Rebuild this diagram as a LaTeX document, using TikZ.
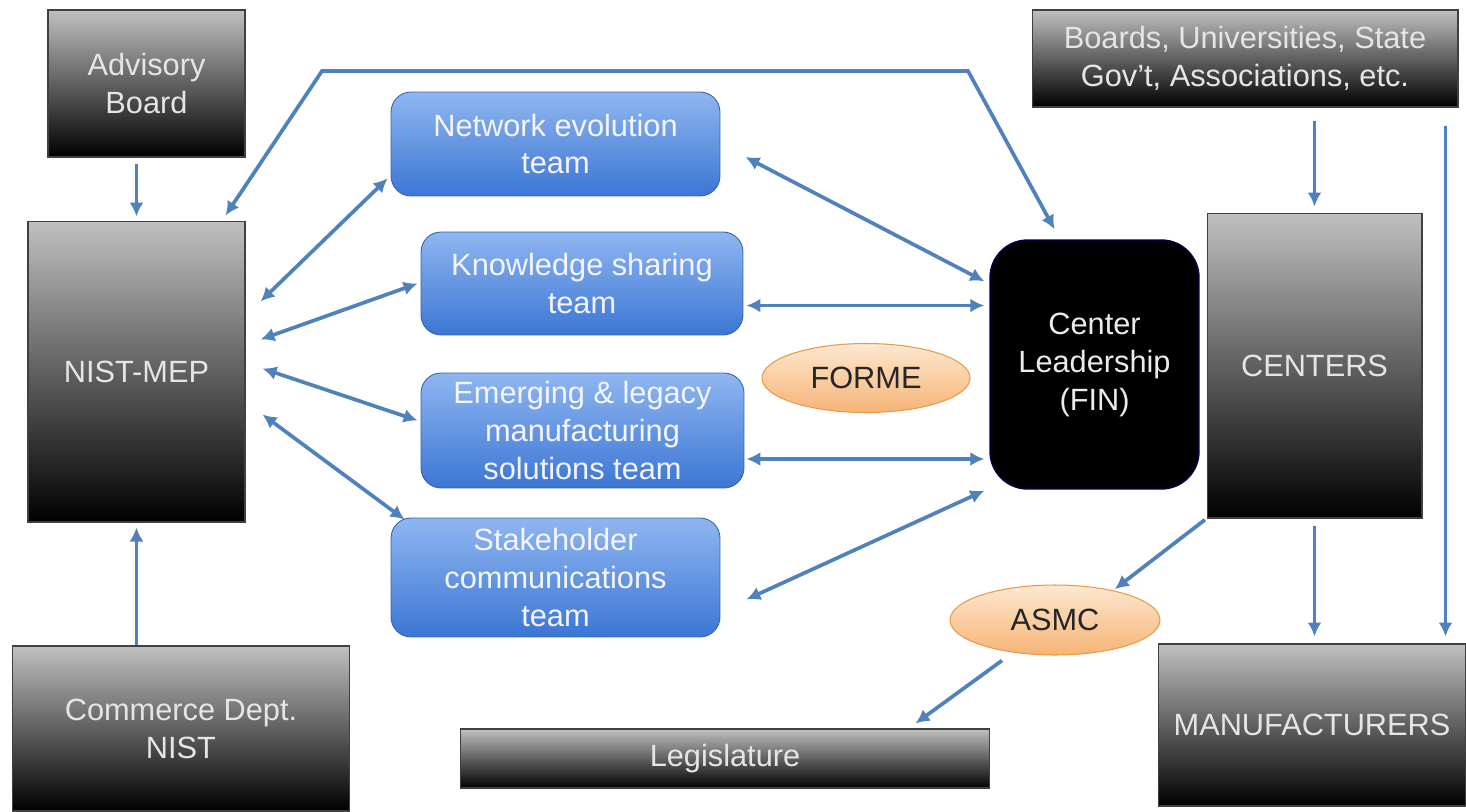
\documentclass[tikz,border=0pt]{standalone}
\usepackage{fontspec}
\setmainfont{Liberation Sans}
\usetikzlibrary{arrows.meta,calc,shapes.geometric}
\definecolor{arrblue}{RGB}{79,129,189}
\definecolor{boxtop}{RGB}{192,192,192}
\definecolor{teamtop}{RGB}{143,182,240}
\definecolor{teambot}{RGB}{60,118,212}
\definecolor{ovaltop}{RGB}{253,232,208}
\definecolor{ovalbot}{RGB}{246,180,118}
\tikzset{
  every node/.style={font=\fontsize{17.5}{21.6}\selectfont,align=center,inner sep=0pt},
  graybox/.style={draw=black!75,line width=0.6pt,top color=boxtop,bottom color=black,text=white!90!black},
  teambox/.style={draw=teambot!85!black,line width=0.5pt,rounded corners=0.4cm,top color=teamtop,bottom color=teambot,text=white!96!blue},
  leadbox/.style={draw=blue!30!black,line width=0.8pt,rounded corners=0.75cm,fill=black,text=white!92!black},
  oval/.style={ellipse,draw=orange!60!brown!80,line width=0.6pt,top color=ovaltop,bottom color=ovalbot,text=black!85},
  arr/.style={draw=arrblue,line width=2.1pt,-{Latex[length=2.8mm,width=2.8mm]}},
  darr/.style={draw=arrblue,line width=2.1pt,{Latex[length=2.8mm,width=2.8mm]}-{Latex[length=2.8mm,width=2.8mm]}}
}

\begin{document}
\begin{tikzpicture}[x=0.02cm,y=-0.02cm]
\useasboundingbox (0,0) rectangle (1466,811);

\node[graybox,minimum width=3.94cm,minimum height=2.94cm] (adv) at (146.5,83.5) {Advisory\\Board};
\node[graybox,minimum width=8.52cm,minimum height=1.94cm] (brd) at (1245,58.5) {Boards, Universities, State\\Gov't, Associations, etc.};
\node[graybox,minimum width=4.34cm,minimum height=6.02cm] (nist) at (136.5,371.5) {NIST-MEP};
\node[graybox,minimum width=6.76cm,minimum height=3.30cm] (com) at (181,728.5) {Commerce Dept.\\NIST};
\node[graybox,minimum width=10.6cm,minimum height=1.18cm] (leg) at (725,758.5) {Legislature};
\node[graybox,minimum width=6.16cm,minimum height=3.24cm] (man) at (1312,725) {MANUFACTURERS};
\node[graybox,minimum width=4.30cm,minimum height=6.10cm] (ctr) at (1314.5,365.5) {CENTERS};
\node[leadbox,minimum width=4.18cm,minimum height=4.98cm] (fin) at (1094.5,364.5) {Center\\Leadership\\(FIN)};

\node[teambox,minimum width=6.58cm,minimum height=2.08cm] (net) at (555.5,144) {Network evolution\\team};
\node[teambox,minimum width=6.44cm,minimum height=2.06cm] (ks) at (582,283.5) {Knowledge sharing\\team};
\node[teambox,minimum width=6.46cm,minimum height=2.30cm] (eml) at (582.5,430.5) {Emerging \& legacy\\manufacturing\\solutions team};
\node[teambox,minimum width=6.58cm,minimum height=2.38cm] (stk) at (555.5,577.5) {Stakeholder\\communications\\team};

\node[oval,minimum width=4.16cm,minimum height=1.38cm] (forme) at (866,378) {FORME};
\node[oval,minimum width=4.20cm,minimum height=1.40cm] (asmc) at (1055,620) {ASMC};

\coordinate (tl) at (322,71);
\coordinate (tr) at (968,71);
\coordinate (ksr) at ($(ks.east)+(3,22)$);
\coordinate (emr) at ($(eml.east)+(2,28.5)$);
\coordinate (brr) at ($(brd.south east)+(-13,18)$);

\draw[arr,shorten <=0.12cm,shorten >=0.08cm] (adv.south -| nist.north) -- (nist.north);
\draw[arr,shorten >=0.1cm] (nist.south |- com.north) -- (nist.south);
\draw[darr] ($(nist.north east)+(-20,-5)$) -- (tl) -- (tr) -- ($(fin.north)+(-40,-10)$);
\draw[darr] ($(nist.north east)+(15,81)$) -- ($(net.south west)+(-3,-18)$);
\draw[darr] ($(nist.north east)+(15,119)$) -- ($(ks.west)+(-3,0)$);
\draw[darr] ($(nist.east)+(17,-3)$) -- ($(eml.west)+(-3,-10)$);
\draw[darr] ($(nist.east)+(17,43)$) -- ($(stk.north west)+(14,2)$);
\draw[darr] ($(net.east)+(25,13)$) -- ($(fin.north west)+(-5,42)$);
\draw[darr] (ksr) -- ($(ksr -| fin.west)+(-5,0)$);
\draw[darr] (emr) -- ($(emr -| fin.west)+(-5,0)$);
\draw[darr] ($(stk.east)+(26,22)$) -- ($(fin.south west)+(-5,1)$);
\draw[arr,shorten <=0.26cm,shorten >=0.12cm] (brd.south -| ctr.north) -- (ctr.north);
\draw[arr] (brr) -- ($(brr |- man.north)+(0,-7)$);
\draw[arr,shorten <=0.14cm,shorten >=0.14cm] (ctr.south) -- (ctr.south |- man.north);
\draw[arr,shorten <=0.04cm,shorten >=0.04cm] (ctr.south west) -- (asmc.27);
\draw[arr] ($(asmc.south)+(-53,5)$) -- ($(leg.north east)+(-75,-5)$);
\end{tikzpicture}
\end{document}
